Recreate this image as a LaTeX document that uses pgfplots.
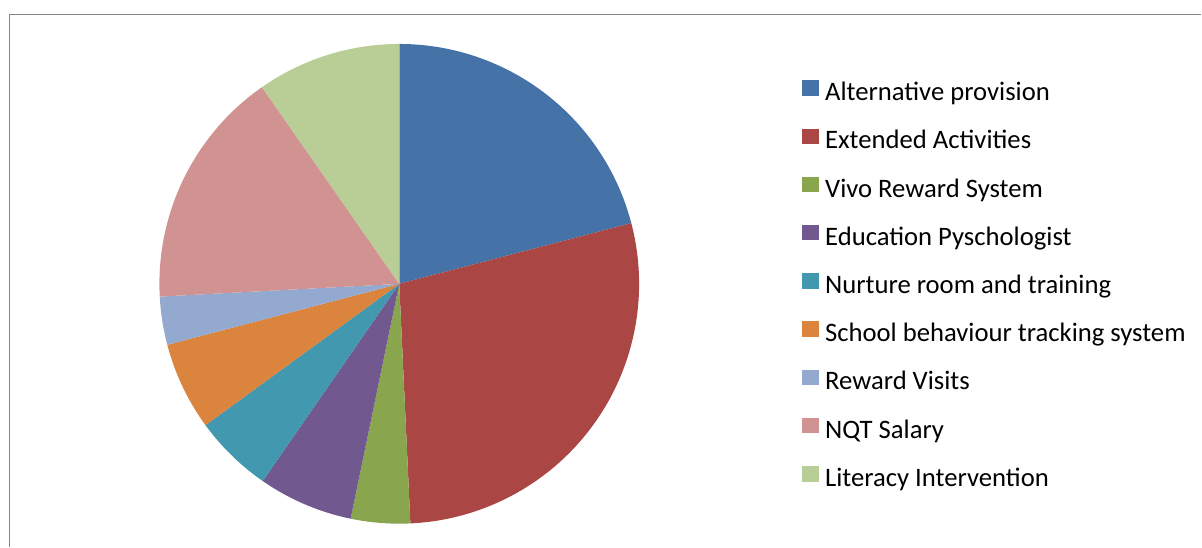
\documentclass[border=0pt]{standalone}
\usepackage{pgfplots}
\usepackage{pgfplotstable}
\usepackage{fontspec}
\setmainfont{Carlito}
\pgfplotsset{compat=1.18}
\definecolor{c0}{HTML}{4572A7}
\definecolor{c1}{HTML}{AA4643}
\definecolor{c2}{HTML}{89A54E}
\definecolor{c3}{HTML}{71588F}
\definecolor{c4}{HTML}{4198AF}
\definecolor{c5}{HTML}{DB843D}
\definecolor{c6}{HTML}{93A9CF}
\definecolor{c7}{HTML}{D19392}
\definecolor{c8}{HTML}{B9CD96}
\definecolor{framegray}{HTML}{878787}
\pgfplotstableread[col sep=comma]{
name,value
Alternative provision,20.93
Extended Activities,28.33
Vivo Reward System,3.99
Education Pyschologist,6.39
Nurture room and training,5.33
School behaviour tracking system,5.94
Reward Visits,3.24
NQT Salary,16.15
Literacy Intervention,9.70
}\piedata
\begin{document}
\begin{tikzpicture}
\begin{axis}[
  scale only axis, width=901.5pt, height=410.25pt,
  xmin=0, xmax=1202, ymin=0, ymax=547,
  hide axis, clip=false,
  legend cell align=left,
  legend image code/.code={\fill[#1] (0pt,-1.3pt) rectangle (11.6pt,9.5pt);},
  legend style={draw=none, fill=none, font=\fontsize{20pt}{24pt}\selectfont,
    at={(axis cs:802.7,468)}, anchor=north west,
    row sep=15.2pt, column sep=5pt, inner sep=0pt,
    nodes={inner sep=0pt, text height=16pt, text depth=5pt}},
]
\path (axis cs:0,0) rectangle (axis cs:1202,547);
\draw[framegray, line width=1.1pt] (axis cs:9.5,0) -- (axis cs:9.5,532.5) -- (axis cs:1202,532.5);
\pgfplotstablegetrowsof{\piedata}
\pgfmathtruncatemacro\N{\pgfplotsretval-1}
\def\angA{90}
\pgfplotsforeachungrouped \i in {0,...,\N}{%
  \pgfplotstablegetelem{\i}{value}\of\piedata
  \pgfmathsetmacro\angB{\angA-3.6*\pgfplotsretval}%
  \edef\temp{\noexpand\fill[c\i] (axis cs:399.5,263) -- ++(\angA:180pt) arc[start angle=\angA, end angle=\angB, radius=180pt] -- cycle;}%
  \temp
  \global\let\angA\angB
}
\addlegendimage{c0}\addlegendentry{Alternative provision}
\addlegendimage{c1}\addlegendentry{Extended Activities}
\addlegendimage{c2}\addlegendentry{Vivo Reward System}
\addlegendimage{c3}\addlegendentry{Education Pyschologist}
\addlegendimage{c4}\addlegendentry{Nurture room and training}
\addlegendimage{c5}\addlegendentry{School behaviour tracking system}
\addlegendimage{c6}\addlegendentry{Reward Visits}
\addlegendimage{c7}\addlegendentry{NQT Salary}
\addlegendimage{c8}\addlegendentry{Literacy Intervention}
\end{axis}
\end{tikzpicture}
\end{document}
